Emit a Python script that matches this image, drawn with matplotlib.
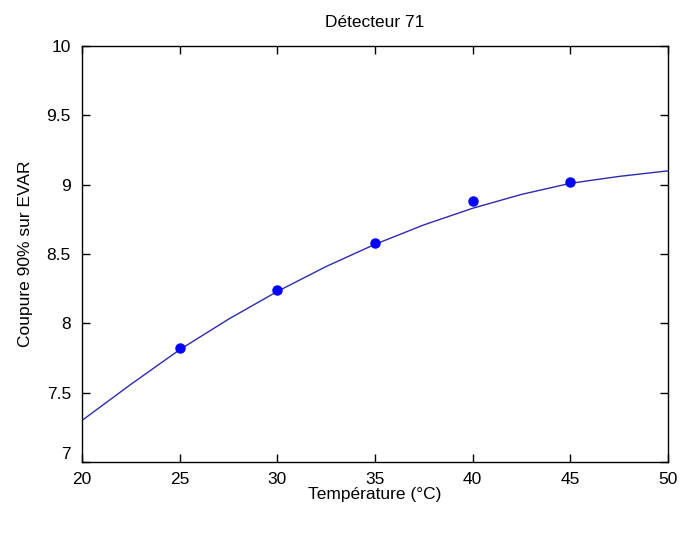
import matplotlib
matplotlib.use("Agg")
import matplotlib.pyplot as plt

# measured points
temp = [25, 30, 35, 40, 45]
cut = [7.82, 8.24, 8.58, 8.88, 9.02]

# fitted curve
fit_temp = [20, 22.5, 25, 27.5, 30, 32.5, 35, 37.5, 40, 42.5, 45, 47.5, 50]
fit_cut = [7.30, 7.56, 7.81, 8.03, 8.23, 8.41, 8.57, 8.71, 8.83, 8.93, 9.01, 9.06, 9.10]

plt.rcParams["font.family"] = ["Liberation Sans", "DejaVu Sans"]

fig = plt.figure(figsize=(6.8, 5.36), dpi=100)
ax = fig.add_axes([0.1206, 0.138, 0.982 - 0.1206, 0.914 - 0.138])
ax.plot(fit_temp, fit_cut, color="#2b2bb0", linewidth=1.0)
ax.plot(temp, cut, "o", color="#0000ff", markersize=6.5)

ax.set_xlim(20, 50)
ax.set_ylim(7, 10)
ax.set_xticks([20, 25, 30, 35, 40, 45, 50])
ax.set_yticks([7, 7.5, 8, 8.5, 9, 9.5, 10])
ax.set_yticklabels(["7", "7.5", "8", "8.5", "9", "9.5", "10"])
ax.tick_params(direction="in", top=True, right=True, labelsize=12.5, length=6, width=1)
ax.tick_params(axis="x", pad=7)
ax.tick_params(axis="y", pad=8)
# MATLAB-style: bottom y label sits a little above the corner
ax.get_yticklabels()[0].set_verticalalignment("bottom")
for s in ax.spines.values():
    s.set_linewidth(1.0)
ax.set_title("Détecteur 71", fontsize=12.5, pad=14)
ax.set_xlabel("Température (°C)", fontsize=12.5, labelpad=0)
ax.set_ylabel("Coupure 90% sur EVAR", fontsize=12.5, labelpad=10)

fig.savefig("out.png", dpi=100)
plt.close(fig)
